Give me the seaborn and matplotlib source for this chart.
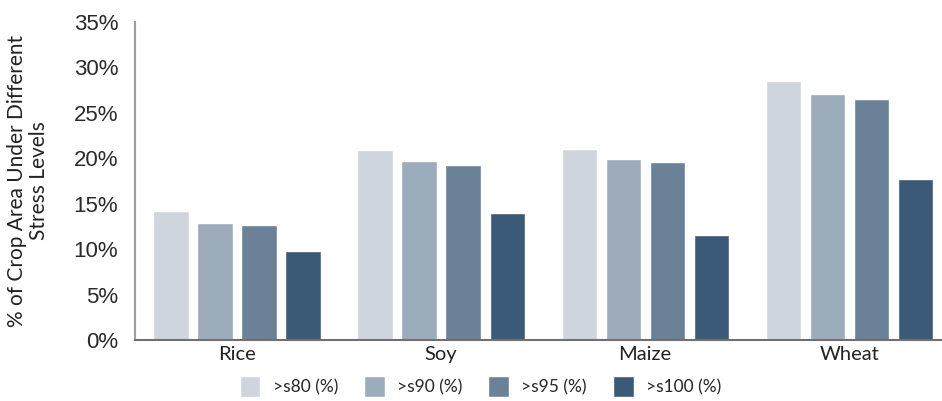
import matplotlib
matplotlib.use("Agg")
import matplotlib.pyplot as plt
import seaborn as sns
import pandas as pd

# Data
crops = ["Rice", "Soy", "Maize", "Wheat"]
levels = [">s80 (%)", ">s90 (%)", ">s95 (%)", ">s100 (%)"]
s80 = [14.2, 20.95, 21.05, 28.5]
s90 = [12.9, 19.75, 19.95, 27.1]
s95 = [12.65, 19.3, 19.6, 26.5]
s100 = [9.8, 14.0, 11.55, 17.7]
colors = ["#CED5DD", "#9DACBB", "#6B8197", "#3B5A78"]

rows = []
for lvl, vals in zip(levels, [s80, s90, s95, s100]):
    for crop, v in zip(crops, vals):
        rows.append({"crop": crop, "level": lvl, "value": v})
df = pd.DataFrame(rows)

sns.set_style("white")
plt.rcParams["font.family"] = ["Liberation Sans", "DejaVu Sans"]

fig = plt.figure(figsize=(9.42, 4.01), dpi=100)
ax = fig.add_axes([0.1433, 0.152, 0.857, 0.793])

sns.barplot(data=df, x="crop", y="value", hue="level", order=crops,
            hue_order=levels, palette=colors, width=0.863, gap=0.2,
            saturation=1, ax=ax)

ax.set_ylim(0, 35)
ax.set_xlim(-0.5, 3.456)
ax.set_yticks(range(0, 36, 5))
ax.set_yticklabels([f"{t}%" for t in range(0, 36, 5)], fontsize=16, color="#2a2a2a")
ax.set_xticks(range(len(crops)))
ax.set_xticklabels(crops, fontsize=14.5, family="Lato", color="#222222")
ax.tick_params(axis="both", length=0, pad=4)
ax.tick_params(axis="y", pad=12)
ax.set_xlabel("")
ax.set_ylabel("% of Crop Area Under Different\nStress Levels", fontsize=15,
              family="Lato", color="#222222", labelpad=18, linespacing=1.1)

sns.despine(ax=ax, top=True, right=True)
ax.spines["left"].set_color("#A0A0A0")
ax.spines["left"].set_linewidth(1.5)
ax.spines["bottom"].set_color("#707070")
ax.spines["bottom"].set_linewidth(1.5)

handles, labels = ax.get_legend_handles_labels()
ax.get_legend().remove()
fig.legend(handles, labels, loc="center", bbox_to_anchor=(0.51, 0.036), ncol=4,
           frameon=False, handlelength=1.2, handleheight=1.5,
           columnspacing=1.5, handletextpad=0.7,
           prop={"family": "Lato", "size": 12.5})

fig.savefig("out.png", dpi=100)
